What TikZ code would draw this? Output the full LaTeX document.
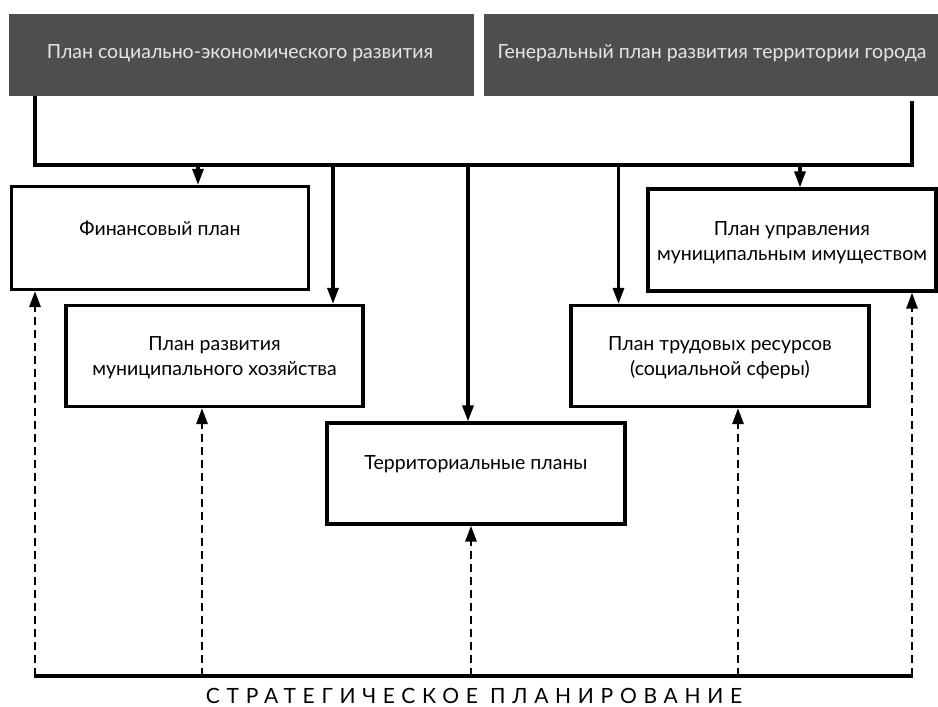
\documentclass[tikz,border=0pt]{standalone}
\usepackage{fontspec}
\setmainfont{Lato}
\usetikzlibrary{arrows.meta}
\definecolor{darkbox}{HTML}{4E4E4E}
\definecolor{lighttext}{HTML}{E6E6E6}
\tikzset{
  header/.style={fill=darkbox, draw=none, inner sep=0pt},
  hdrtext/.style={text=lighttext, font=\fontsize{19.5}{22}\selectfont, inner sep=0pt},
  planbox/.style={draw=black, line width=3.2pt, fill=white, inner sep=0pt},
  boxtext/.style={font=\fontsize{19.5}{25}\selectfont, align=center, inner sep=0pt},
  solidarr/.style={line width=3.1pt, -{Triangle[length=16pt,width=11pt]}},
  dasharr/.style={line width=2.8pt, dash pattern=on 8pt off 5pt, -{Triangle[length=16pt,width=11pt]}},
  busline/.style={line width=3.2pt},
}
\begin{document}
\begin{tikzpicture}[x=1pt,y=-1pt]
\useasboundingbox (0,0) rectangle (938,707);
% headers
\node[header, minimum width=465pt, minimum height=82pt] (h1) at (241.5,55) {};
\node[hdrtext] (h1t) at (240,53) {План социально-экономического развития};
\node[header, minimum width=456pt, minimum height=82pt] (h2) at (712,55) {};
\node[hdrtext] (h2t) at (712,53) {Генеральный план развития территории города};
% boxes
\node[planbox, minimum width=297pt, minimum height=103pt] (fin) at (160,238) {};
\node[boxtext] (fint) at (160,228) {Финансовый план};
\node[planbox, minimum width=297pt, minimum height=101pt] (mh) at (214.5,356) {};
\node[boxtext] (mht) at (214.5,358) {План развития\\муниципального хозяйства};
\node[planbox, minimum width=298pt, minimum height=101pt] (ter) at (476,473.5) {};
\node[boxtext] (tert) at (476,464) {Территориальные планы};
\node[planbox, minimum width=298pt, minimum height=101pt] (tr) at (720,356) {};
\node[boxtext] (trt) at (720,358) {План трудовых ресурсов\\(социальной сферы)};
\node[planbox, minimum width=288pt, minimum height=102pt] (up) at (792,240) {};
\node[boxtext] (upt) at (792,243) {План управления\\муниципальным имуществом};
% top bus
\coordinate (busL) at (35,165);
\coordinate (busR) at (912,165);
\draw[busline] (h1.south -| busL) -- (busL) -- (busR) -- ([yshift=-5pt]h2.south -| busR);
\draw[solidarr] ([xshift=38pt]fin.north |- busL) -- ([xshift=38pt]fin.north);
\draw[solidarr] ([xshift=118.5pt]mh.north |- busL) -- ([xshift=118.5pt]mh.north);
\draw[solidarr] ([xshift=-8pt]ter.north |- busL) -- ([xshift=-8pt]ter.north);
\draw[solidarr] ([xshift=-101.5pt]tr.north |- busL) -- ([xshift=-101.5pt]tr.north);
\draw[solidarr] ([xshift=8pt]up.north |- busL) -- ([xshift=8pt]up.north);
% bottom bus
\coordinate (botL) at (34,676);
\coordinate (botR) at (913,676);
\draw[line width=3.8pt] (botL) -- (botR);
\node[font=\fontsize{21}{24}\selectfont\addfontfeature{LetterSpace=32}, inner sep=0pt, anchor=base] (strat) at (474,703) {СТРАТЕГИЧЕСКОЕ ПЛАНИРОВАНИЕ};
\draw[dasharr] ([xshift=1pt]botL) -- ([xshift=1pt]botL |- fin.south);
\draw[dasharr] ([xshift=-12.5pt]mh.south |- botL) -- ([xshift=-12.5pt]mh.south);
\draw[dasharr] ([xshift=-5pt]ter.south |- botL) -- ([xshift=-5pt]ter.south);
\draw[dasharr] ([xshift=18pt]tr.south |- botL) -- ([xshift=18pt]tr.south);
\draw[dasharr] ([xshift=-1pt]botR) -- ([xshift=-1pt]botR |- up.south);
\end{tikzpicture}
\end{document}
